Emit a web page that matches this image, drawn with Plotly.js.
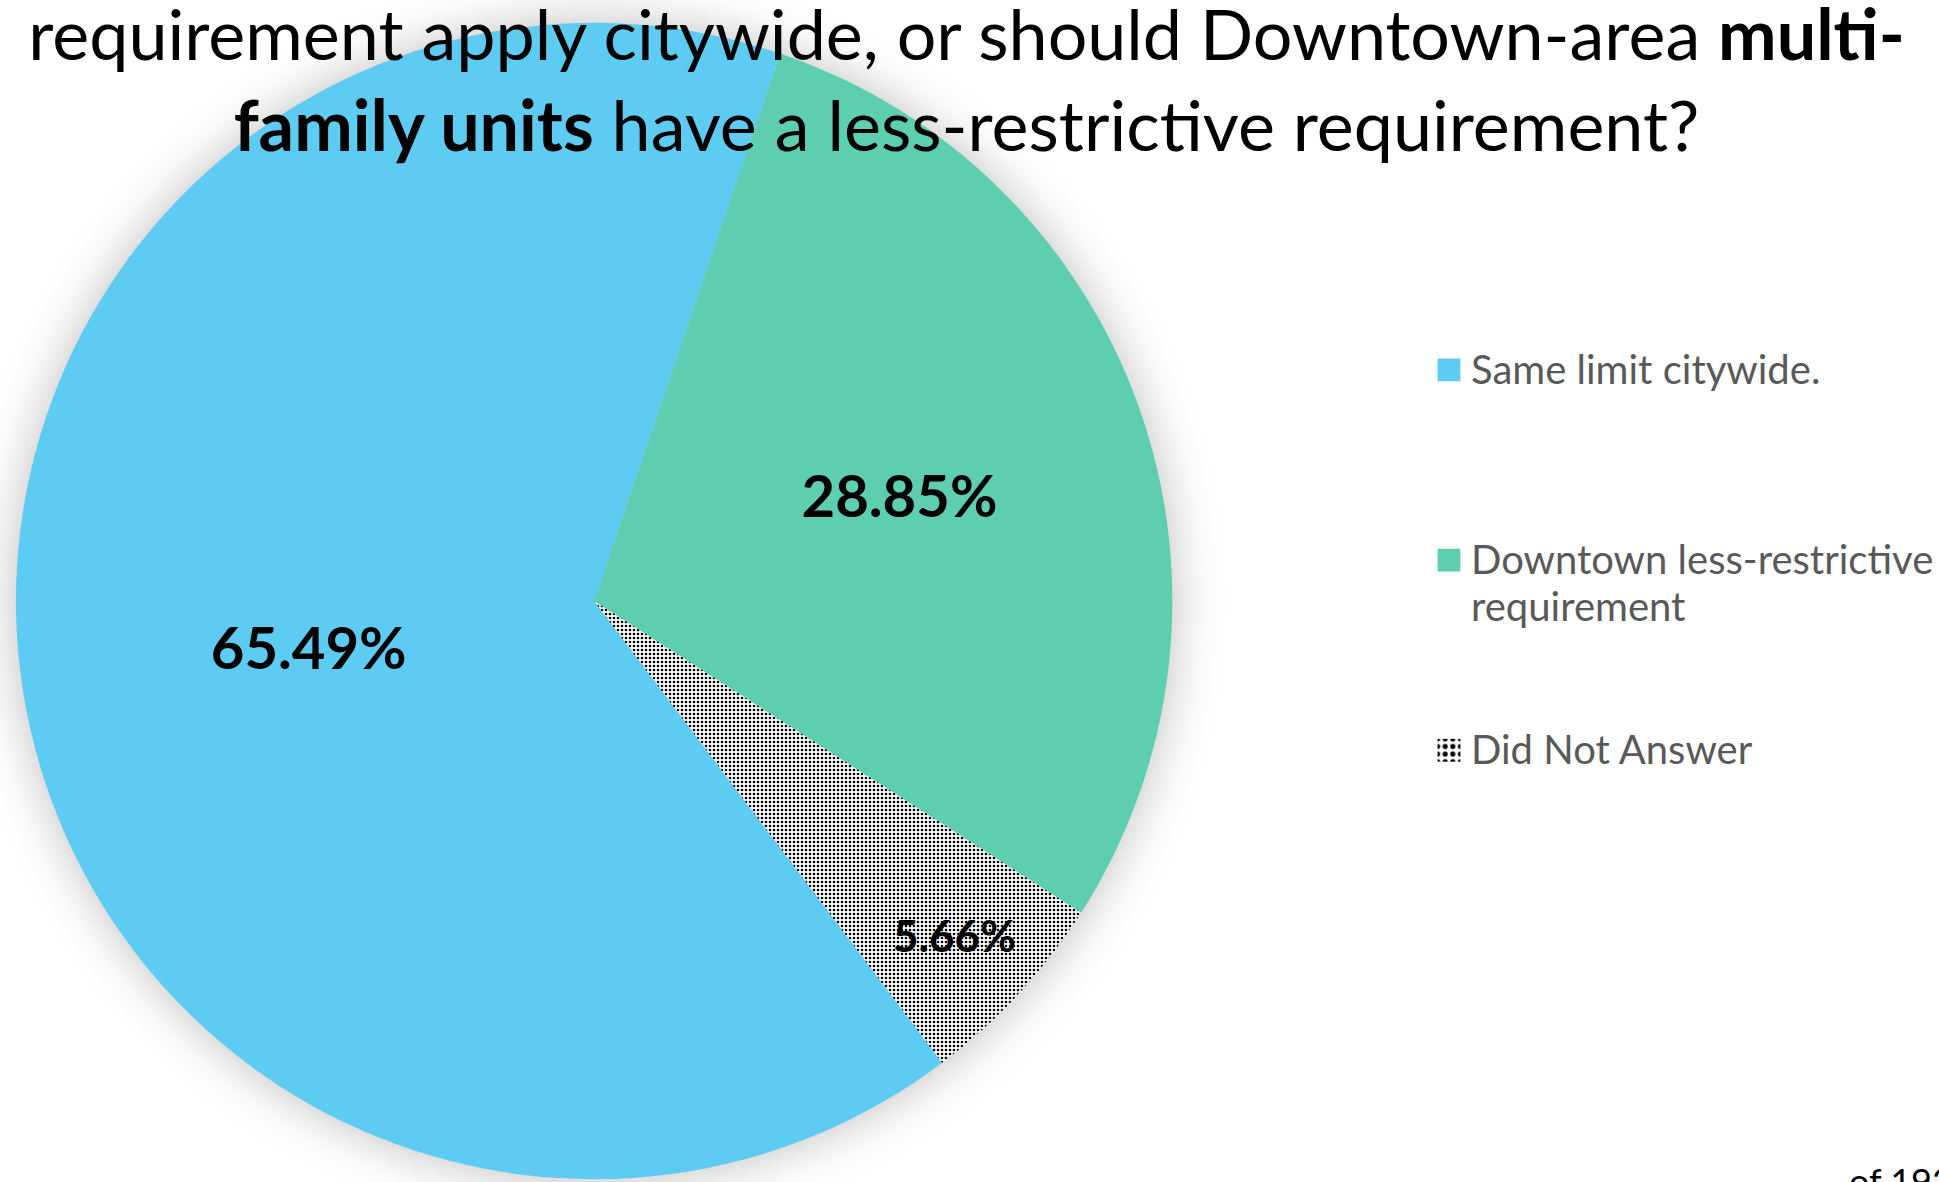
<!DOCTYPE html>
<html>
<head>
<meta charset="utf-8">
<script src="https://cdn.plot.ly/plotly-3.0.1.min.js"></script>
<style>
  html, body { margin: 0; padding: 0; background: #ffffff; overflow: hidden; }
  #chart { width: 1939px; height: 1182px; }
</style>
</head>
<body>
<div id="chart"></div>
<script>
// ---- Data ----
const categories = ["Same limit citywide.", "Downtown less-restrictive requirement", "Did Not Answer"];
const shares = [65.49, 28.85, 5.66];
const titleLine1 = "requirement apply citywide, or should Downtown-area <b>multi-</b>";
const titleLine2 = "<b>family units</b> have a less-restrictive requirement?";
const footnote = "of 193";

// ---- Styling ----
const W = 1939, H = 1182;
const sliceColors = ["#5DCBF2", "#5ECEB0", "#FFFFFF"];
const pieCx = 596, pieCy = 601, pieR = 580;
const pieDomain = {
  x: [(pieCx - pieR) / W, (pieCx + pieR) / W],
  y: [(H - pieCy - pieR) / H, (H - pieCy + pieR) / H]
};

// legend labels: wrap the long one, pad with blank lines to reproduce the reference spacing
const legendPad = [3, 2, 0];
const legendTextSize = 40;
const displayLabels = categories.map((c, i) => {
  const lines = c.replace("less-restrictive ", "less-restrictive\n").split("\n")
    .map(s => '<span style="font-size:' + legendTextSize + 'px">' + s + '</span>');
  for (let k = 0; k < legendPad[i]; k++) lines.push("\u00A0");
  return lines.join("<br>");
});

// soft shadow disk under the pie (blurred after drawing)
const shadowTrace = {
  type: "pie",
  values: [1],
  labels: ["shadow"],
  marker: { colors: ["rgba(0,0,0,0.26)"], line: { width: 0 } },
  textinfo: "none",
  hoverinfo: "skip",
  showlegend: false,
  sort: false,
  domain: pieDomain
};

const pieTrace = {
  type: "pie",
  labels: displayLabels,
  values: shares,
  sort: false,
  direction: "clockwise",
  rotation: 143,
  domain: pieDomain,
  marker: {
    colors: sliceColors,
    line: { width: 0 },
    pattern: {
      shape: ["", "", "."],
      fgcolor: "#000000",
      bgcolor: ["#5DCBF2", "#5ECEB0", "#FFFFFF"],
      size: 4,
      solidity: 0.35
    }
  },
  texttemplate: "%{percent:.2%}",
  textposition: "inside",
  insidetextorientation: "horizontal",
  textfont: { family: "Lato, sans-serif", size: [58, 58, 44], color: "#000000", weight: "bold" },
  hoverinfo: "label+percent"
};

const layout = {
  width: W,
  height: H,
  margin: { l: 0, r: 0, t: 0, b: 0 },
  paper_bgcolor: "#ffffff",
  plot_bgcolor: "#ffffff",
  font: { family: "Lato, sans-serif", color: "#000000" },
  title: {
    text: titleLine1 + "<br>" + titleLine2,
    font: { family: "Lato, sans-serif", size: 70, color: "#000000" },
    x: 0.5,
    xanchor: "center",
    xref: "paper",
    yref: "container",
    y: 1 - 60 / H,
    yanchor: "top",
    pad: { t: 0, b: 0, l: 0, r: 0 }
  },
  showlegend: true,
  legend: {
    x: 1435.5 / W,
    xanchor: "left",
    y: 1 - 340 / H,
    yanchor: "top",
    valign: "top",
    font: { family: "Lato, sans-serif", size: 36, color: "#595959" },
    bgcolor: "rgba(0,0,0,0)",
    borderwidth: 0
  },
  annotations: [{
    text: footnote,
    xref: "paper", yref: "paper",
    x: 1853 / W, xanchor: "left",
    y: 1 - 1157 / H, yanchor: "top",
    showarrow: false,
    font: { family: "Lato, sans-serif", size: 36, color: "#000000" }
  }]
};

Plotly.newPlot("chart", [shadowTrace, pieTrace], layout, { displayModeBar: false, staticPlot: true }).then(() => {
  const svgNS = "http://www.w3.org/2000/svg";
  const traces = document.querySelectorAll("#chart .pielayer .trace");
  if (traces.length) {
    const shadowG = traces[0];
    const ownerSvg = shadowG.ownerSVGElement;
    let defs = ownerSvg.querySelector("defs");
    if (!defs) { defs = document.createElementNS(svgNS, "defs"); ownerSvg.insertBefore(defs, ownerSvg.firstChild); }
    const filt = document.createElementNS(svgNS, "filter");
    filt.setAttribute("id", "pieShadowBlur");
    filt.setAttribute("filterUnits", "userSpaceOnUse");
    filt.setAttribute("x", "-300"); filt.setAttribute("y", "-300");
    filt.setAttribute("width", "2600"); filt.setAttribute("height", "1800");
    const blur = document.createElementNS(svgNS, "feGaussianBlur");
    blur.setAttribute("in", "SourceGraphic");
    blur.setAttribute("stdDeviation", "25");
    blur.setAttribute("result", "blurred");
    const comp = document.createElementNS(svgNS, "feComposite");
    comp.setAttribute("in", "blurred");
    comp.setAttribute("in2", "SourceAlpha");
    comp.setAttribute("operator", "out");
    filt.appendChild(blur);
    filt.appendChild(comp);
    defs.appendChild(filt);
    shadowG.setAttribute("filter", "url(#pieShadowBlur)");
  }
  // enlarge legend swatches
  document.querySelectorAll("#chart .legend .legendpoints path").forEach(p => {
    p.setAttribute("transform", "translate(18,0) scale(1.9)");
  });
});
</script>
</body>
</html>
